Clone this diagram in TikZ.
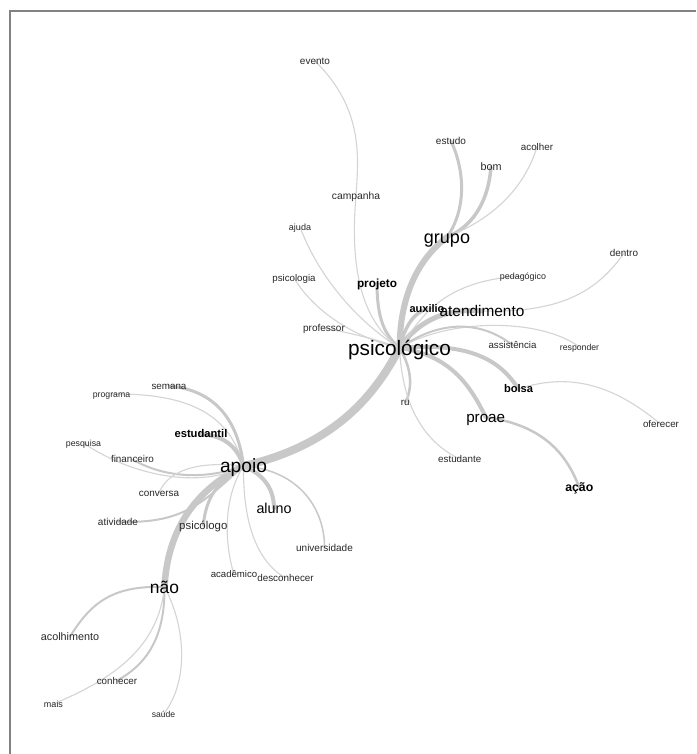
\documentclass[tikz,border=0pt]{standalone}
\usepackage{fontspec}
\setmainfont{Liberation Sans}
\usetikzlibrary{backgrounds}
\definecolor{linkgray}{RGB}{200,200,200}
\definecolor{thingray}{RGB}{212,212,212}
\definecolor{framegray}{RGB}{130,130,130}
\definecolor{wordgray}{RGB}{40,40,40}
\tikzset{
  word/.style={inner sep=0pt, text=wordgray},
  fs/.style={word, font=\fontsize{#1}{#1}\selectfont, text height={0.7*#1pt}, text depth=0pt},
  bfs/.style={word, text=black, font=\bfseries\fontsize{#1}{#1}\selectfont, text height={0.7*#1pt}, text depth=0pt},
  big/.style={word, text=black, font=\fontsize{#1}{#1}\selectfont, text height={0.7*#1pt}, text depth=0pt},
  link/.style={draw=linkgray, line width=#1, line cap=round},
  thin/.style={draw=thingray, line width=1.1pt, line cap=round},
}
\begin{document}
\begin{tikzpicture}[x=1pt,y=-1pt]
\useasboundingbox (0,0) rectangle (696,754);
% words
\node[fs=10]   (evento)      at (315,61)    {evento};
\node[fs=10]   (estudo)      at (451,141)   {estudo};
\node[fs=9.8]  (acolher)     at (537,147)   {acolher};
\node[fs=10.8] (bom)         at (491,167)   {bom};
\node[fs=10.3] (campanha)    at (356,196)   {campanha};
\node[fs=9]    (ajuda)       at (300,227)   {ajuda};
\node[big=18]  (grupo)       at (447,237)   {grupo};
\node[fs=9.9]  (dentro)      at (624,253)   {dentro};
\node[fs=9.7]  (psicologia)  at (294,278)   {psicologia};
\node[fs=8.9]  (pedagogico)  at (523,276)   {pedagógico};
\node[bfs=11.8] (projeto)    at (377,283)   {projeto};
\node[bfs=11]  (auxilio)     at (427,309)   {auxilio};
\node[big=15.4] (atendimento) at (482,311)  {atendimento};
\node[fs=10]   (professor)   at (324,328)   {professor};
\node[big=20.8] (psi)        at (399.5,348) {psicológico};
\node[fs=9.7]  (assistencia) at (512.5,345) {assistência};
\node[fs=8.7]  (responder)   at (579.5,347) {responder};
\node[bfs=11.1] (bolsa)      at (518.5,389) {bolsa};
\node[fs=9.8]  (ru)          at (405.3,402.3) {ru};
\node[big=15.2] (proae)      at (485.7,417) {proae};
\node[fs=9.8]  (oferecer)    at (661,424.5) {oferecer};
\node[fs=9.8]  (estudante)   at (459.7,459) {estudante};
\node[bfs=12.3] (acao)       at (579.3,487.5) {ação};
\node[fs=9.8]  (semana)      at (169,386)   {semana};
\node[fs=8.7]  (programa)    at (111.5,394) {programa};
\node[bfs=11.2] (estudantil) at (201,434)   {estudantil};
\node[fs=8.8]  (pesquisa)    at (83.5,443)  {pesquisa};
\node[fs=9.9]  (financeiro)  at (132.5,459.5) {financeiro};
\node[big=19.2] (apoio)      at (243.5,466) {apoio};
\node[fs=9.9]  (conversa)    at (159,493)   {conversa};
\node[big=14.3] (aluno)      at (274,508.5) {aluno};
\node[fs=10]   (atividade)   at (118,521.5) {atividade};
\node[fs=11.4] (psicologo)   at (203.3,525.5) {psicólogo};
\node[fs=10]   (universidade) at (324.5,548) {universidade};
\node[fs=9.6]  (academico)   at (234,574.5) {acadêmico};
\node[fs=9.85] (desconhecer) at (285.5,578) {desconhecer};
\node[big=17.4] (nao)        at (164.5,587) {não};
\node[fs=10.8] (acolhimento) at (70,636.5)  {acolhimento};
\node[fs=9.8]  (conhecer)    at (117,680.7) {conhecer};
\node[fs=9]    (mais)        at (53.5,704)  {mais};
\node[fs=8.6]  (saude)       at (163.5,714.3) {saúde};
\begin{scope}[on background layer]
\fill[white] (0,0) rectangle (696,754);
\draw[framegray, line width=2pt] (9.5,754) -- (9.5,11) -- (696,11);
% psicologico links
\draw[link=8pt] (psi.center) .. controls (375,395) and (335,445) .. (apoio.center);
\draw[link=6pt] (psi.center) .. controls (400,300) and (415,262) .. (grupo.center);
\draw[link=3pt] (grupo.center) .. controls (463,215) and (468,178) .. (estudo.center);
\draw[link=3.5pt] (grupo.center) .. controls (470,228) and (488,205) .. (bom.center);
\draw[thin] (grupo.center) .. controls (485,222) and (522,195) .. (acolher.center);
\draw[link=3pt] (psi.center) .. controls (385,335) and (377,320) .. (projeto.center);
\draw[thin] (psi.center) .. controls (360,320) and (350,265) .. (campanha.center);
\draw[thin] (campanha.center) .. controls (358,160) and (365,110) .. (evento.center);
\draw[thin] (psi.center) .. controls (355,320) and (318,275) .. (ajuda.center);
\draw[thin] (psi.center) .. controls (345,335) and (310,305) .. (psicologia.center);
\draw[thin] (psi.center) .. controls (380,340) and (350,333) .. (professor.center);
\draw[link=3.5pt] (psi.center) .. controls (405,325) and (415,312) .. (auxilio.center);
\draw[link=5pt] (psi.center) .. controls (420,318) and (450,308) .. (atendimento.center);
\draw[thin] (psi.center) .. controls (420,320) and (440,280) .. (pedagogico.center);
\draw[thin] (atendimento.center) .. controls (555,313) and (595,295) .. (dentro.center);
\draw[thin] (psi.center) .. controls (450,318) and (540,318) .. (responder.center);
\draw[link=2pt] (psi.center) .. controls (440,320) and (480,320) .. (assistencia.center);
\draw[link=4pt] (psi.center) .. controls (470,342) and (500,360) .. (bolsa.center);
\draw[link=4pt] (psi.center) .. controls (450,355) and (470,385) .. (proae.center);
\draw[link=2.5pt] (psi.center) .. controls (413,370) and (412,390) .. (ru.center);
\draw[thin] (psi.center) .. controls (402,400) and (420,440) .. (estudante.center);
\draw[thin] (bolsa.center) .. controls (575,370) and (620,390) .. (oferecer.center);
\draw[link=2.5pt] (proae.center) .. controls (540,425) and (565,450) .. (acao.center);
% apoio links
\draw[link=6.5pt] (apoio.center) .. controls (205,485) and (168,520) .. (nao.center);
\draw[link=3pt] (apoio.center) .. controls (238,420) and (215,390) .. (semana.center);
\draw[thin] (apoio.center) .. controls (230,415) and (190,393) .. (programa.center);
\draw[link=4pt] (apoio.center) .. controls (238,450) and (228,436) .. (estudantil.center);
\draw[thin] (apoio.center) .. controls (200,490) and (130,475) .. (pesquisa.center);
\draw[link=2pt] (apoio.center) .. controls (205,480) and (165,478) .. (financeiro.center);
\draw[thin] (apoio.center) .. controls (210,462) and (170,465) .. (conversa.center);
\draw[link=2pt] (apoio.center) .. controls (205,500) and (185,525) .. (atividade.center);
\draw[link=3pt] (apoio.center) .. controls (220,480) and (206,495) .. (psicologo.center);
\draw[link=4pt] (apoio.center) .. controls (265,475) and (274,490) .. (aluno.center);
\draw[link=1.5pt] (apoio.center) .. controls (300,470) and (325,510) .. (universidade.center);
\draw[thin] (apoio.center) .. controls (222,500) and (225,545) .. (academico.center);
\draw[thin] (apoio.center) .. controls (243,520) and (255,560) .. (desconhecer.center);
% nao links
\draw[link=2pt] (nao.center) .. controls (110,585) and (90,605) .. (acolhimento.center);
\draw[link=2pt] (nao.center) .. controls (165,640) and (145,665) .. (conhecer.center);
\draw[thin] (nao.center) .. controls (158,650) and (110,680) .. (mais.center);
\draw[thin] (nao.center) .. controls (185,625) and (190,680) .. (saude.center);
\end{scope}
\end{tikzpicture}
\end{document}
